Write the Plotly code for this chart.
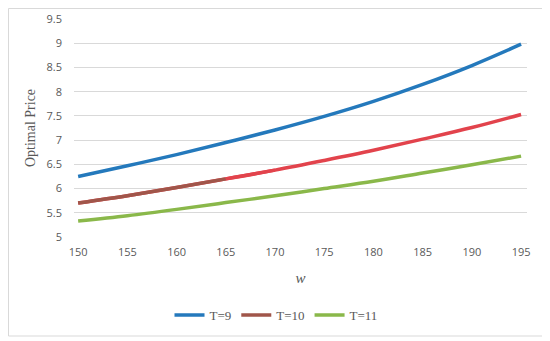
import plotly.graph_objects as go

w = [150, 155, 160, 165, 170, 175, 180, 185, 190, 195]
t9 = [6.25, 6.47, 6.70, 6.95, 7.21, 7.49, 7.80, 8.15, 8.54, 8.98]
t10 = [5.70, 5.85, 6.02, 6.20, 6.38, 6.58, 6.79, 7.02, 7.26, 7.53]
t11 = [5.33, 5.44, 5.57, 5.71, 5.85, 6.00, 6.15, 6.32, 6.49, 6.67]
y_ticks = [5, 5.5, 6, 6.5, 7, 7.5, 8, 8.5, 9, 9.5]
x_ticks = w

blue = "#2479BC"
red = "#E2434C"
brown = "#A0564A"
green = "#8AB84A"
serif = "Liberation Serif"

fig = go.Figure()
fig.add_trace(go.Scatter(x=w, y=t9, mode="lines", name="T=9",
                         line=dict(color=blue, width=3.5, shape="spline")))
# T=10 : brownish at the start, red afterwards (as in the picture)
fig.add_trace(go.Scatter(x=w[:5], y=t10[:5], mode="lines", name="T=10",
                         line=dict(color=red, width=3.5, shape="spline"),
                         showlegend=False))
fig.add_trace(go.Scatter(x=w[:4], y=t10[:4], mode="lines", name="T=10",
                         line=dict(color=brown, width=3.5, shape="spline")))
fig.add_trace(go.Scatter(x=w[3:], y=t10[3:], mode="lines", name="T=10",
                         line=dict(color=red, width=3.5, shape="spline"),
                         showlegend=False))
fig.add_trace(go.Scatter(x=w, y=t11, mode="lines", name="T=11",
                         line=dict(color=green, width=3.5, shape="spline")))

# page body adds an 8px margin, so the figure is 542x333 and shifted accordingly
W, H = 542, 333
L, R, T, B = 66, 23, 11, 104
pw, ph = W - L - R, H - T - B

fig.update_layout(
    width=W, height=H,
    margin=dict(l=L, r=R, t=T, b=B, autoexpand=False),
    paper_bgcolor="white", plot_bgcolor="white",
    showlegend=True,
    legend=dict(orientation="h", x=(268 - L) / pw, xanchor="center",
                y=-(307 - (T + ph)) / ph, yanchor="middle",
                font=dict(family=serif, size=13, color="#595959"),
                itemwidth=30, tracegroupgap=0, traceorder="normal"),
    xaxis=dict(range=[149.58, 195.6], tickvals=x_ticks, showgrid=False, zeroline=False,
               showline=False, ticks="", automargin=False, ticklabelstandoff=7,
               tickfont=dict(family="Open Sans", size=11, color="#595959"),
               title=dict(text="<i>w</i>", font=dict(family=serif, size=15, color="#595959"),
                          standoff=14)),
    yaxis=dict(range=[5, 9.5], tickvals=y_ticks, ticktext=[f"{v:g}" for v in y_ticks],
               showgrid=True, gridcolor="#D9D9D9", gridwidth=1, zeroline=False,
               showline=False, ticks="", ticklabelstandoff=11, automargin=False,
               tickfont=dict(family="Open Sans", size=11, color="#595959"),
               title=dict(text="Optimal Price", font=dict(family=serif, size=14, color="#595959"),
                          standoff=7)),
    shapes=[dict(type="rect", xref="paper", yref="paper",
                 x0=(0.5 - L) / pw, x1=(538 - L) / pw,
                 y0=-(328 - (T + ph)) / ph, y1=1 + (T - 0.5) / ph,
                 line=dict(color="#D9D9D9", width=1), fillcolor="rgba(0,0,0,0)", layer="below")],
)
fig.write_html("out.html")
